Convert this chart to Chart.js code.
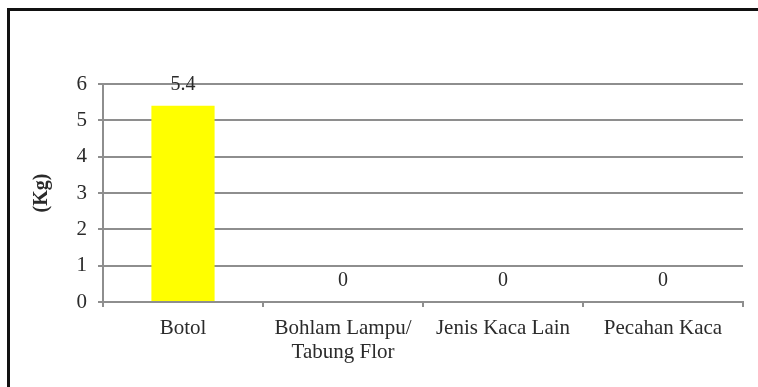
<!DOCTYPE html>
<html>
<head>
<meta charset="utf-8">
<script src="https://cdn.jsdelivr.net/npm/chart.js@4/dist/chart.umd.min.js"></script>
<style>
  html, body { margin: 0; padding: 0; background: #fff; }
  #wrap { position: relative; width: 758px; height: 387px; overflow: hidden; }
  #frame { position: absolute; left: 7px; top: 8px; width: 800px; height: 420px;
           border-left: 3px solid #111; border-top: 3px solid #111; box-sizing: border-box; }
  canvas { position: absolute; left: 0; top: 0; }
</style>
</head>
<body>
<div id="wrap">
  <div id="frame"></div>
  <canvas id="c" width="758" height="387"></canvas>
</div>
<script>
// Glass waste by type (kg)
const categories = ["Botol", ["Bohlam Lampu/", "Tabung Flor"], "Jenis Kaca Lain", "Pecahan Kaca"];
const weights = [5.4, 0, 0, 0];
const yTicks = [0, 1, 2, 3, 4, 5, 6];
const axisTitle = "(Kg)";

const FONT = "'Liberation Serif', 'Times New Roman', serif";
const TEXT = "#2b2b2b";
const GRID = "#8e8e8e";

// Value labels above each bar
const valueLabels = {
  id: "valueLabels",
  afterDatasetsDraw(chart) {
    const ctx = chart.ctx;
    const meta = chart.getDatasetMeta(0);
    ctx.save();
    ctx.font = "20px " + FONT;
    ctx.fillStyle = TEXT;
    ctx.textAlign = "center";
    ctx.textBaseline = "middle";
    meta.data.forEach((bar, i) => {
      ctx.fillText(String(weights[i]), bar.x, bar.y - 21);
    });
    ctx.restore();
  }
};

new Chart(document.getElementById("c"), {
  type: "bar",
  data: {
    labels: categories,
    datasets: [{
      data: weights,
      backgroundColor: "#ffff00",
      borderWidth: 0,
      categoryPercentage: 1,
      barPercentage: 0.395
    }]
  },
  options: {
    responsive: false,
    animation: false,
    devicePixelRatio: 1,
    layout: { padding: { left: 0, right: 15, top: 84, bottom: 0 } },
    plugins: { legend: { display: false }, tooltip: { enabled: false } },
    scales: {
      x: {
        grid: { offset: true, drawOnChartArea: false, color: GRID, tickLength: 5, lineWidth: 2 },
        border: { color: GRID, width: 2 },
        ticks: { color: TEXT, font: { family: FONT, size: 21, lineHeight: 1.15 }, padding: 9, maxRotation: 0, autoSkip: false },
        afterFit(scale) { scale.height = 85; }
      },
      y: {
        min: 0, max: 6,
        afterBuildTicks(scale) { scale.ticks = yTicks.map(v => ({ value: v })); },
        grid: { color: GRID, tickLength: 5, lineWidth: 2 },
        border: { color: GRID, width: 2 },
        ticks: { color: TEXT, font: { family: FONT, size: 21 }, padding: 11 },
        title: { display: true, text: axisTitle, color: TEXT, font: { family: FONT, size: 20, weight: "bold" }, padding: { top: 30, bottom: 0 } },
        afterFit(scale) { scale.width = 103; }
      }
    }
  },
  plugins: [valueLabels]
});
</script>
</body>
</html>
